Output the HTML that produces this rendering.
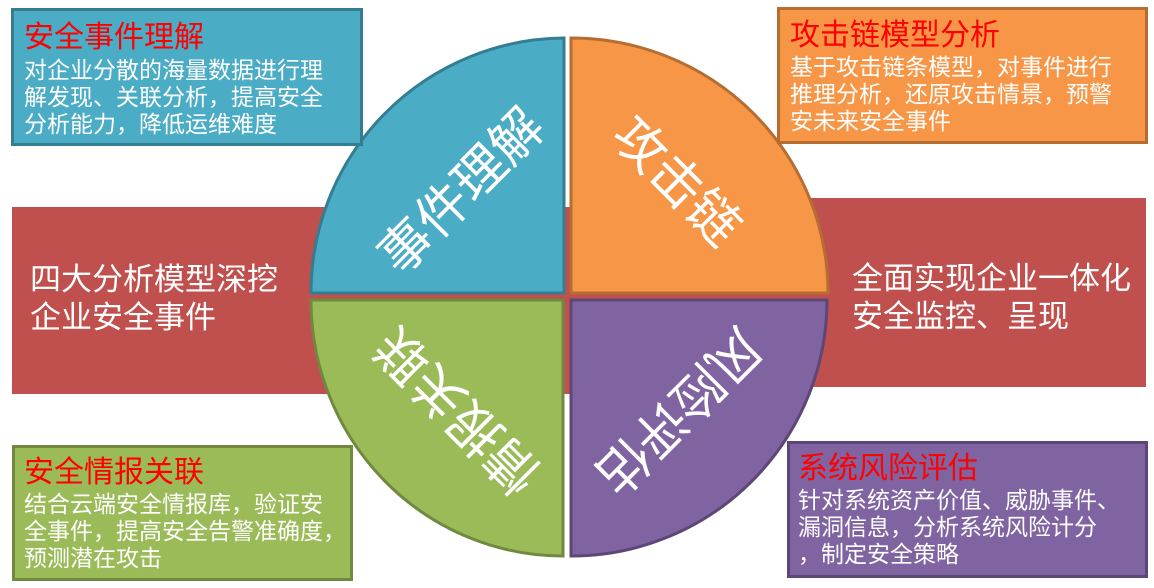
<!DOCTYPE html>
<html><head><meta charset="utf-8"><style>
html,body{margin:0;padding:0;background:#fff;}
svg{display:block;}
text{font-family:"Liberation Sans","Noto Sans CJK SC",sans-serif;}
</style></head><body>
<svg width="1154" height="588" viewBox="0 0 1154 588" xmlns="http://www.w3.org/2000/svg">
<rect x="12" y="207" width="560" height="187" fill="#c0504d"/>
<rect x="572" y="198" width="574" height="189" fill="#c0504d"/>
<path d="M564,293 L564,38 A255,255 0 0 0 311,293 Z" fill="#4bacc6" stroke="#357d91" stroke-width="3"/>
<path d="M571,293 L571,38 A257,255 0 0 1 828,293 Z" fill="#f79646" stroke="#b66d31" stroke-width="3"/>
<path d="M563,300 L563,556 A252,256 0 0 1 311,300 Z" fill="#9bbb59" stroke="#71893f" stroke-width="3"/>
<path d="M571,300 L571,556 A256,256 0 0 0 827,300 Z" fill="#8064a2" stroke="#5c4776" stroke-width="3"/>
<g fill="#fff" font-size="52" text-anchor="middle" dominant-baseline="central">
<text transform="translate(462,192) rotate(-45)">事件理解</text>
<text transform="translate(676,182) rotate(45)">攻击链</text>
<text transform="translate(458,410) rotate(225)">情报关联</text>
<text transform="translate(678,410) rotate(135)">风险评估</text>
</g>
<g fill="#fff" font-size="31">
<text x="30" y="290">四大分析模型深挖</text>
<text x="30" y="328">企业安全事件</text>
<text x="852" y="289">全面实现企业一体化</text>
<text x="852" y="327">安全监控、呈现</text>
</g>
<rect x="12.5" y="9.5" width="349" height="135" fill="#4bacc6" stroke="#357d91" stroke-width="3"/>
<rect x="778.5" y="8.5" width="368" height="134" fill="#f79646" stroke="#b66d31" stroke-width="3"/>
<rect x="13.5" y="446.5" width="338" height="133" fill="#9bbb59" stroke="#71893f" stroke-width="3"/>
<rect x="788.5" y="442.5" width="358" height="134" fill="#8064a2" stroke="#5c4776" stroke-width="3"/>
<g fill="#ff0000" font-size="30">
<text x="24" y="47">安全事件理解</text>
<text x="790" y="45">攻击链模型分析</text>
<text x="24" y="482">安全情报关联</text>
<text x="798" y="478">系统风险评估</text>
</g>
<g fill="#fff" font-size="23">
<text x="24" y="78">对企业分散的海量数据进行理</text>
<text x="24" y="105">解发现、关联分析，提高安全</text>
<text x="24" y="132">分析能力，降低运维难度</text>
<text x="790" y="75">基于攻击链条模型，对事件进行</text>
<text x="790" y="102">推理分析，还原攻击情景，预警</text>
<text x="790" y="129">安未来安全事件</text>
<text x="24" y="512">结合云端安全情报库，验证安</text>
<text x="24" y="539">全事件，提高安全告警准确度，</text>
<text x="24" y="566">预测潜在攻击</text>
<text x="798" y="508">针对系统资产价值、威胁事件、</text>
<text x="798" y="535">漏洞信息，分析系统风险计分</text>
<text x="798" y="562">，制定安全策略</text>
</g>
</svg>
</body></html>
